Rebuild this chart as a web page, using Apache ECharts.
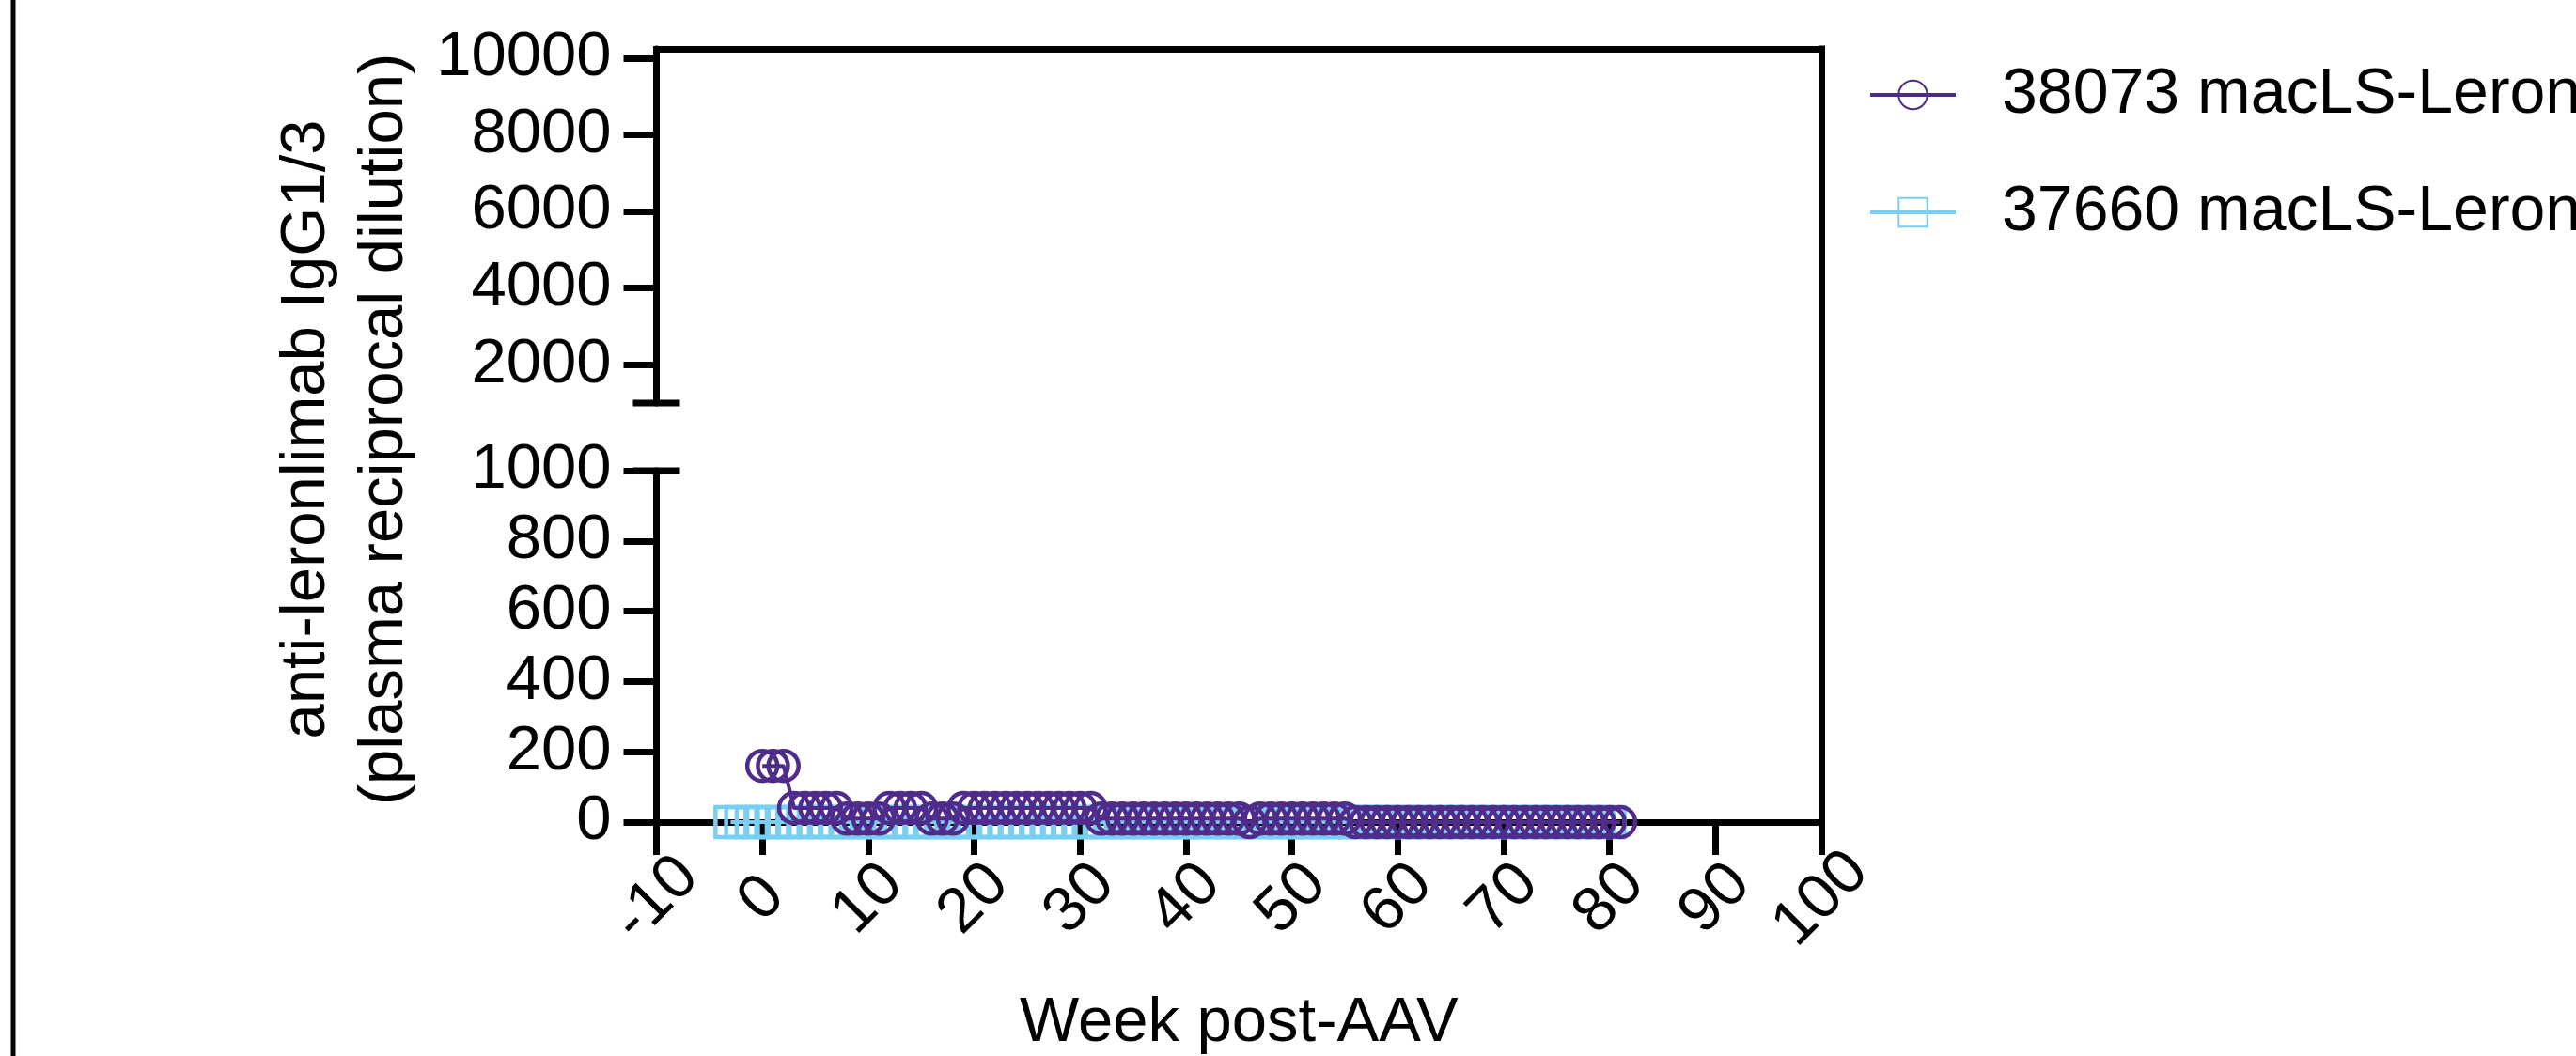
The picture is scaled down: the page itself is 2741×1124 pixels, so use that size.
<!DOCTYPE html>
<html>
<head>
<meta charset="utf-8">
<script src="https://cdn.jsdelivr.net/npm/echarts@6/dist/echarts.min.js"></script>
<style>
html,body{margin:0;padding:0;background:#fff;}
#c{width:2741px;height:1124px;}
</style>
</head>
<body>
<div id="c"></div>
<script>
// ---- data ----
const seriesNames = ['38073 macLS-Leron', '37660 macLS-Leron'];
const weeksA = [0,1,2,3,4,5,6,7,8,9,10,11,12,13,14,15,16,17,18,19,20,21,22,23,24,25,26,27,28,29,30,31,32,33,34,35,36,37,38,39,40,41,42,43,44,45,46,47,48,49,50,51,52,53,54,55,56,57,58,59,60,61,62,63,64,65,66,67,68,69,70,71,72,73,74,75,76,77,78,79,80,81];
const valuesA = [160,160,160,40,40,40,40,40,10,10,10,10,40,40,40,40,10,10,10,40,40,40,40,40,40,40,40,40,40,40,40,40,10,10,10,10,10,10,10,10,10,10,10,10,10,10,0,10,10,10,10,10,10,10,10,10,0,0,0,0,0,0,0,0,0,0,0,0,0,0,0,0,0,0,0,0,0,0,0,0,0,0];
const weeksB = [-3,-2,-1,0,1,2,3,4,5,6,7,8,9,10,11,12,13,14,15,16,17,18,19,20,21,22,23,24,25,26,27,28,29,30,31,32,33,34,35,36,37,38,39,40,41,42,43,44,45,46,47,48,49,50,51,52,53,54,55,56,57,58,59,60,61,62,63,64,65,66,67,68,69,70,71,72,73,74,75,76,77,78,79,80];
const valuesB = [0,0,0,0,0,0,0,0,0,0,0,0,0,0,0,0,0,0,0,0,0,0,0,0,0,0,0,0,0,0,0,0,0,0,0,0,0,0,0,0,0,0,0,0,0,0,0,0,0,0,0,0,0,0,0,0,0,0,0,0,0,0,0,0,0,0,0,0,0,0,0,0,0,0,0,0,0,0,0,0,0,0,0,0];
const xTicks = [-10,0,10,20,30,40,50,60,70,80,90,100];
const yUpperTicks = [2000,4000,6000,8000,10000];
const yLowerTicks = [0,200,400,600,800,1000];
const yTitle = 'anti-leronlimab IgG1/3\n(plasma reciprocal dilution)';
const xTitle = 'Week post-AAV';

// ---- style ----
const PURPLE = '#4F2C8C';
const BLUE = '#79CFF2';
const FONT = '"Liberation Sans", Arial, Helvetica, sans-serif';
const FS = 67;
const LW = 7;
const G = {left: 698.5, right: 2741 - 1938};

const chart = echarts.init(document.getElementById('c'), null, {renderer: 'canvas'});
const frameLine = {color: '#000', width: LW, cap: 'square'};
const plainLine = {color: '#000', width: LW};
const fmt = v => String(v);

const option = {
  backgroundColor: '#fff',
  animation: false,
  grid: [
    {left: G.left, right: G.right, top: 52, height: 377},
    {left: G.left, right: G.right, top: 501, height: 376},
    {left: G.left, right: G.right, top: 52, height: 825}
  ],
  xAxis: [
    {gridIndex: 0, type: 'value', min: -10, max: 100, show: false},
    {gridIndex: 1, type: 'value', min: -10, max: 100, interval: 10,
      axisLine: {show: true, onZero: false, lineStyle: plainLine},
      axisTick: {show: true, length: 35, lineStyle: plainLine, customValues: xTicks},
      axisLabel: {show: true, rotate: 45, align: 'center', verticalAlign: 'middle', margin: 82,
        fontSize: FS, fontFamily: FONT, color: '#000', customValues: xTicks, formatter: fmt},
      splitLine: {show: false},
      name: xTitle, nameLocation: 'middle', nameGap: 181,
      nameTextStyle: {fontSize: FS, fontFamily: FONT, color: '#000'}
    },
    {gridIndex: 2, type: 'value', min: -10, max: 100, position: 'top',
      axisLine: {show: true, onZero: false, lineStyle: frameLine},
      axisTick: {show: false}, axisLabel: {show: false}, splitLine: {show: false}}
  ],
  yAxis: [
    {gridIndex: 0, type: 'value', min: 1000, max: 10240,
      axisLine: {show: true, onZero: false, lineStyle: plainLine},
      axisTick: {show: true, length: 35, lineStyle: plainLine, customValues: yUpperTicks},
      axisLabel: {show: true, margin: 48, fontSize: FS, fontFamily: FONT, color: '#000', customValues: yUpperTicks, formatter: fmt},
      splitLine: {show: false}},
    {gridIndex: 1, type: 'value', min: 0, max: 1000, interval: 200,
      axisLine: {show: true, onZero: false, lineStyle: plainLine},
      axisTick: {show: true, length: 35, lineStyle: plainLine, customValues: yLowerTicks},
      axisLabel: {show: true, margin: 48, fontSize: FS, fontFamily: FONT, color: '#000', customValues: yLowerTicks, formatter: fmt},
      splitLine: {show: false}},
    {gridIndex: 2, type: 'value', min: 0, max: 1, position: 'right',
      axisLine: {show: true, onZero: false, lineStyle: frameLine},
      axisTick: {show: false}, axisLabel: {show: false}, splitLine: {show: false}}
  ],
  legend: {
    orient: 'vertical', left: 1983, top: 62, itemGap: 57,
    itemWidth: 91, itemHeight: 38,
    lineStyle: {width: 4},
    textStyle: {fontSize: 68, fontFamily: FONT, color: '#000', padding: [0, 0, 0, 44]},
    data: seriesNames
  },
  series: [
    {
      name: seriesNames[1], type: 'line', xAxisIndex: 1, yAxisIndex: 1,
      data: weeksB.map((w, i) => [w, valuesB[i]]),
      symbol: 'rect', symbolSize: 32,
      itemStyle: {color: 'rgba(255,255,255,0)', borderColor: BLUE, borderWidth: 4.5},
      lineStyle: {color: BLUE, width: 4},
      clip: false, z: 3
    },
    {
      name: seriesNames[0], type: 'line', xAxisIndex: 1, yAxisIndex: 1,
      data: weeksA.map((w, i) => [w, valuesA[i]]),
      symbol: 'circle', symbolSize: 32,
      itemStyle: {color: 'rgba(255,255,255,0)', borderColor: PURPLE, borderWidth: 4.5},
      lineStyle: {color: PURPLE, width: 4},
      clip: false, z: 4
    }
  ]
};
chart.setOption(option);

// break caps and axis title (decoration, positioned from the axes)
const xa = chart.convertToPixel({xAxisIndex: 1}, -10);
const yUpBottom = chart.convertToPixel({yAxisIndex: 0}, 1000);
const yLowTop = chart.convertToPixel({yAxisIndex: 1}, 1000);
chart.setOption({
  graphic: [
    {type: 'line', shape: {x1: xa - 25, y1: yUpBottom, x2: xa + 25, y2: yUpBottom}, style: {stroke: '#000', lineWidth: LW}},
    {type: 'line', shape: {x1: xa - 25, y1: yLowTop, x2: xa + 25, y2: yLowTop}, style: {stroke: '#000', lineWidth: LW}},
    {type: 'line', shape: {x1: 14, y1: 0, x2: 14, y2: 1124}, style: {stroke: '#000', lineWidth: 5}},
    {type: 'text', x: 368, y: (yUpBottom + yLowTop) / 2 - 8, rotation: Math.PI / 2,
      style: {text: yTitle, font: FS + 'px ' + FONT, fill: '#000', textAlign: 'center', textVerticalAlign: 'middle', lineHeight: 83}}
  ]
});
</script>
</body>
</html>
